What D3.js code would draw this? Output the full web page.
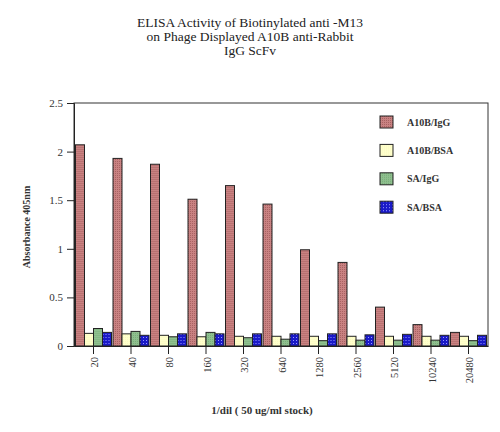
<!DOCTYPE html>
<html>
<head>
<meta charset="utf-8">
<script src="https://cdn.jsdelivr.net/npm/d3@7"></script>
<style>
  body { margin: 0; background: #fff; }
  text { font-family: "Liberation Serif", "DejaVu Serif", serif; }
</style>
</head>
<body>
<div id="viz"></div>
<script>
const dilutions = ['20', '40', '80', '160', '320', '640', '1280', '2560', '5120', '10240', '20480'];
const seriesNames = ['A10B/IgG', 'A10B/BSA', 'SA/IgG', 'SA/BSA'];
const a10bIgG = [2.07, 1.93, 1.87, 1.51, 1.65, 1.46, 0.99, 0.86, 0.40, 0.22, 0.14];
const a10bBSA = [0.13, 0.125, 0.11, 0.095, 0.10, 0.10, 0.10, 0.10, 0.10, 0.10, 0.10];
const saIgG = [0.18, 0.15, 0.095, 0.14, 0.085, 0.07, 0.055, 0.06, 0.06, 0.06, 0.055];
const saBSA = [0.14, 0.11, 0.125, 0.125, 0.125, 0.125, 0.125, 0.115, 0.12, 0.11, 0.11];
const yTicks = [0, 0.5, 1, 1.5, 2, 2.5];
const titleLines = ['ELISA Activity of Biotinylated anti -M13', 'on Phage Displayed A10B anti-Rabbit', 'IgG ScFv'];

const seriesValues = [a10bIgG, a10bBSA, saIgG, saBSA];
const fills = ['url(#pRed)', 'url(#pYellow)', 'url(#pGreen)', 'url(#pBlue)'];

const margin = { top: 103, right: 12, bottom: 86, left: 74 };
const width = 500 - margin.left - margin.right;
const height = 432 - margin.top - margin.bottom;

const svg = d3.select('#viz').append('svg')
    .attr('width', 500)
    .attr('height', 432);

// fill textures like the old bitmap chart
const defs = svg.append('defs');
function dither(id, base, dot, size, r) {
    const p = defs.append('pattern')
        .attr('id', id)
        .attr('patternUnits', 'userSpaceOnUse')
        .attr('width', size).attr('height', size);
    p.append('rect').attr('width', size).attr('height', size).attr('fill', base);
    p.append('rect').attr('x', 0).attr('y', 0).attr('width', r).attr('height', r).attr('fill', dot);
}
dither('pRed', '#c98282', '#a86262', 2, 1);
dither('pYellow', '#ffffcc', '#fafac0', 2, 1);
dither('pGreen', '#8fc08f', '#79ad79', 2, 1);
dither('pBlue', '#1a1ac8', '#9a9aff', 3, 1);

const x = d3.scaleBand()
    .domain(dilutions)
    .range([0, width])
    .paddingInner(0.04)
    .paddingOuter(0.04);

const xSub = d3.scaleBand()
    .domain(d3.range(seriesNames.length))
    .range([0, x.bandwidth()]);

const y = d3.scaleLinear()
    .domain([0, 2.5])
    .range([height, 0]);

const chart = svg.append('g')
    .attr('transform', 'translate(' + margin.left + ',' + margin.top + ')');

// frame
chart.append('rect')
    .attr('width', width)
    .attr('height', height)
    .attr('fill', 'none')
    .attr('stroke', '#333')
    .attr('stroke-width', 1);

const groups = chart.selectAll('g.grp')
    .data(dilutions)
    .enter().append('g')
    .attr('class', 'grp')
    .attr('transform', d => 'translate(' + x(d) + ',0)');

groups.selectAll('rect')
    .data((d, i) => seriesValues.map((vals, s) => ({ s: s, v: vals[i] })))
    .enter().append('rect')
    .attr('x', d => xSub(d.s))
    .attr('width', xSub.bandwidth())
    .attr('y', d => y(d.v))
    .attr('height', d => height - y(d.v))
    .attr('fill', d => fills[d.s])
    .attr('stroke', '#222')
    .attr('stroke-width', 1);

const yAxis = d3.axisLeft(y)
    .tickValues(yTicks)
    .tickFormat(d3.format('~g'))
    .tickSize(7)
    .tickPadding(4);

chart.append('g')
    .call(yAxis)
    .call(g => g.selectAll('line, path').attr('stroke', '#222'))
    .call(g => g.selectAll('text').attr('font-size', 11).attr('fill', '#333').attr('font-family', '"Liberation Serif", serif'));

const xAxis = d3.axisBottom(x)
    .tickSize(8)
    .tickSizeOuter(0);

chart.append('g')
    .attr('transform', 'translate(0,' + height + ')')
    .call(xAxis)
    .call(g => g.selectAll('line, path').attr('stroke', '#222'))
    .call(g => g.selectAll('text')
        .attr('font-size', 10.5)
        .attr('fill', '#333')
        .attr('font-family', '"Liberation Serif", serif')
        .attr('transform', 'rotate(-90)')
        .attr('text-anchor', 'end')
        .attr('x', -11)
        .attr('y', 1)
        .attr('dy', '0.35em'));

// legend
const legend = svg.append('g')
    .attr('transform', 'translate(380,116)');

const legendRow = legend.selectAll('g')
    .data(seriesNames)
    .enter().append('g')
    .attr('transform', (d, i) => 'translate(0,' + (i * 28.4) + ')');

legendRow.append('rect')
    .attr('width', 13)
    .attr('height', 12)
    .attr('fill', (d, i) => fills[i])
    .attr('stroke', '#222');

legendRow.append('text')
    .attr('x', 27)
    .attr('y', 6)
    .attr('dy', '0.35em')
    .attr('font-size', 10)
    .attr('font-weight', 'bold')
    .attr('fill', '#333')
    .text(d => d);

// titles
svg.append('g')
    .selectAll('text')
    .data(titleLines)
    .enter().append('text')
    .attr('x', 250)
    .attr('y', (d, i) => 27 + i * 14)
    .attr('text-anchor', 'middle')
    .attr('font-size', 13.5)
    .attr('fill', '#222')
    .text(d => d);

svg.append('text')
    .attr('transform', 'translate(30,227) rotate(-90)')
    .attr('text-anchor', 'middle')
    .attr('font-size', 10)
    .attr('font-weight', 'bold')
    .attr('fill', '#333')
    .text('Absorbance 405nm');

svg.append('text')
    .attr('x', 262)
    .attr('y', 414)
    .attr('text-anchor', 'middle')
    .attr('font-size', 11)
    .attr('font-weight', 'bold')
    .attr('fill', '#333')
    .text('1/dil ( 50 ug/ml stock)');
</script>
</body>
</html>
